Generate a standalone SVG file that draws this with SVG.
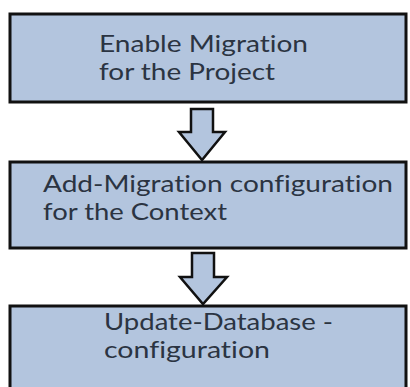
<svg xmlns="http://www.w3.org/2000/svg" width="410" height="387" viewBox="0 0 410 387">
<style>
.box{fill:#b3c5de;stroke:#111;stroke-width:3}
.arr{fill:#b3c5de;stroke:#111;stroke-width:2.5;stroke-linejoin:miter}
.t{font-family:Lato,"Open Sans",sans-serif;font-size:23px;fill:#2b3442;font-variant-ligatures:none;font-feature-settings:"liga" 0,"dlig" 0}
</style>
<rect width="410" height="387" fill="#fff"/>
<g id="node1">
<rect class="box" x="10" y="14" width="396" height="88"/>
<text class="t" x="99" y="52" textLength="209" lengthAdjust="spacingAndGlyphs">Enable Migration</text>
<text class="t" x="99" y="80" textLength="176" lengthAdjust="spacingAndGlyphs">for the Project</text>
</g>
<g id="node2">
<rect class="box" x="10" y="162" width="396" height="86"/>
<text class="t" x="43" y="192" textLength="350" lengthAdjust="spacingAndGlyphs">Add-Migration configuration</text>
<text class="t" x="43" y="220" textLength="184" lengthAdjust="spacingAndGlyphs">for the Context</text>
</g>
<g id="node3">
<rect class="box" x="10" y="306" width="396" height="90"/>
<text class="t" x="104" y="330" textLength="229" lengthAdjust="spacingAndGlyphs">Update-Database -</text>
<text class="t" x="104" y="358" textLength="166" lengthAdjust="spacingAndGlyphs">configuration</text>
</g>
<g id="connectors">
<path class="arr" d="M191,109 H213 V132 H225 L202,160 L179,132 H191 Z"/>
<path class="arr" d="M192,253 H214 V277 H227 L203,304 L180,277 H192 Z"/>
</g>
</svg>
